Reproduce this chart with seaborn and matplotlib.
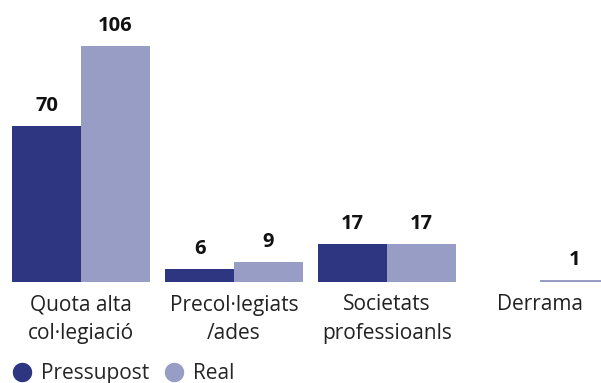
import pandas as pd
import matplotlib.pyplot as plt
import seaborn as sns
from matplotlib.lines import Line2D

categories = ['Quota alta\ncol·legiació', 'Precol·legiats\n/ades', 'Societats\nprofessioanls', 'Derrama']
pressupost = [70, 6, 17, 0]
real = [106, 9, 17, 1]
series = ['Pressupost', 'Real']
colors = ['#2e3682', '#979dc4']

df = pd.DataFrame({
    'categoria': categories * 2,
    'valor': pressupost + real,
    'serie': [series[0]] * 4 + [series[1]] * 4,
})

sns.set_style('white')
plt.rcParams['font.family'] = ['Open Sans', 'DejaVu Sans']

fig = plt.figure(figsize=(6.01, 3.83), dpi=100)
ax = fig.add_axes([0, 101 / 383, 1, 282 / 383])

sns.barplot(data=df, x='categoria', y='valor', hue='serie', palette=colors,
            width=0.9, gap=0, saturation=1, legend=False, linewidth=0, ax=ax)

for cont in ax.containers:
    labels = [f'{v:.0f}' if v > 0 else '' for v in cont.datavalues]
    ax.bar_label(cont, labels=labels, padding=7, fontsize=14.5, fontweight='bold', color='#111111')

ax.set_xlim(-81 / 153, 520 / 153)
ax.set_ylim(0, 282 / 2.226)
ax.set_xlabel('')
ax.set_ylabel('')
ax.set_yticks([])
ax.tick_params(axis='x', length=0, pad=9, labelsize=15, labelcolor='#222222')
for lbl in ax.get_xticklabels():
    lbl.set_linespacing(1.45)
sns.despine(ax=ax, left=True, bottom=True)

handles = [Line2D([0], [0], marker='o', color='w', markerfacecolor=c, markersize=15, linestyle='')
           for c in colors]
fig.legend(handles, series, loc='lower left', bbox_to_anchor=(-0.005, -0.035), ncol=2, frameon=False,
           fontsize=15, handletextpad=0.3, columnspacing=0.6, handlelength=1.2, borderaxespad=0.2)

fig.savefig('out.png', dpi=100)
